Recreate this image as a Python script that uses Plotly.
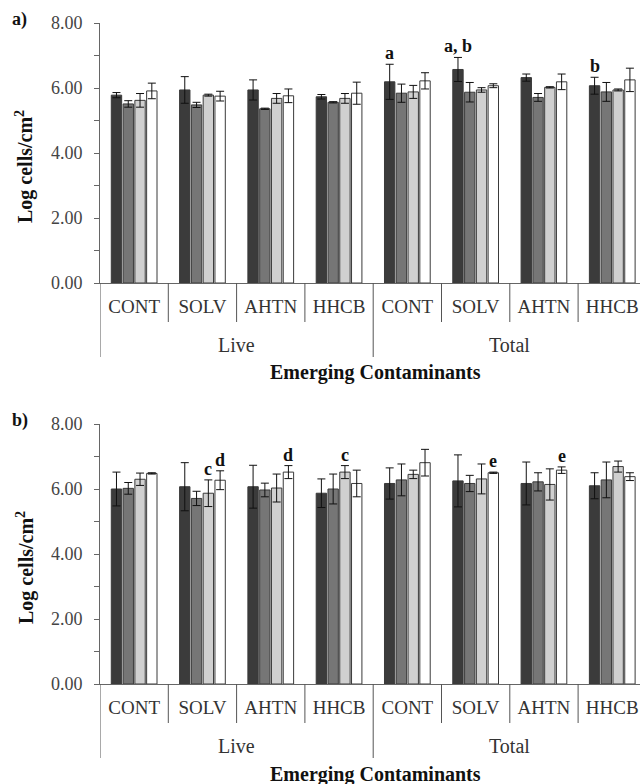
import plotly.graph_objects as go

# ---------------- data ----------------
categories = ["CONT", "SOLV", "AHTN", "HHCB", "CONT", "SOLV", "AHTN", "HHCB"]
groups = ["Live", "Total"]

a_s1 = [5.78, 5.94, 5.94, 5.73, 6.19, 6.57, 6.32, 6.07]
a_s1_err = [0.08, 0.41, 0.31, 0.07, 0.54, 0.37, 0.11, 0.26]
a_s2 = [5.51, 5.48, 5.36, 5.56, 5.84, 5.87, 5.71, 5.88]
a_s2_err = [0.10, 0.08, 0.02, 0.02, 0.28, 0.30, 0.12, 0.29]
a_s3 = [5.62, 5.78, 5.68, 5.68, 5.88, 5.94, 6.02, 5.94]
a_s3_err = [0.21, 0.03, 0.15, 0.15, 0.20, 0.07, 0.02, 0.03]
a_s4 = [5.91, 5.75, 5.76, 5.84, 6.22, 6.07, 6.19, 6.25]
a_s4_err = [0.24, 0.15, 0.21, 0.34, 0.25, 0.06, 0.24, 0.36]

b_s1 = [6.00, 6.07, 6.07, 5.87, 6.17, 6.25, 6.17, 6.10]
b_s1_err = [0.52, 0.74, 0.66, 0.44, 0.48, 0.80, 0.66, 0.40]
b_s2 = [6.02, 5.71, 5.97, 6.00, 6.28, 6.17, 6.22, 6.28]
b_s2_err = [0.18, 0.22, 0.21, 0.46, 0.49, 0.25, 0.28, 0.55]
b_s3 = [6.30, 5.87, 6.03, 6.52, 6.45, 6.31, 6.14, 6.69]
b_s3_err = [0.19, 0.41, 0.43, 0.20, 0.13, 0.46, 0.48, 0.17]
b_s4 = [6.48, 6.27, 6.52, 6.17, 6.81, 6.50, 6.58, 6.38]
b_s4_err = [0.02, 0.29, 0.20, 0.41, 0.41, 0.02, 0.10, 0.12]

# significance letters: (category index, series index, text)
a_letters = [(4, 0, "a"), (5, 0, "a, b"), (7, 0, "b")]
b_letters = [(1, 2, "c"), (1, 3, "d"), (2, 3, "d"), (3, 2, "c"), (5, 3, "e"), (6, 3, "e")]

y_ticks = [0, 2, 4, 6, 8]

# ---------------- style ----------------
W, H = 640, 784
FONT = "Liberation Serif, Times New Roman, serif"
fills = ["#3b3b3b", "#767676", "#d0d0d0", "#ffffff"]
outline = "#3a3a3a"
BARGAP = 0.31
BARGROUPGAP = 0.12

x_idx = list(range(len(categories)))
cat_px = 68.3
x_left_px = 100
x_range = [-0.5, -0.5 + (W - x_left_px) / cat_px]

panels = [
    dict(vals=[a_s1, a_s2, a_s3, a_s4], errs=[a_s1_err, a_s2_err, a_s3_err, a_s4_err],
         letters=a_letters, top=23, bottom=283, tag="a)"),
    dict(vals=[b_s1, b_s2, b_s3, b_s4], errs=[b_s1_err, b_s2_err, b_s3_err, b_s4_err],
         letters=b_letters, top=424, bottom=684, tag="b)"),
]

fig = go.Figure()
annotations = []
shapes = []

slot = (1 - BARGAP) / 4.0

for p, panel in enumerate(panels):
    xa = "x" if p == 0 else "x2"
    ya = "y" if p == 0 else "y2"
    for s in range(4):
        fig.add_trace(go.Bar(
            x=x_idx, y=panel["vals"][s], xaxis=xa, yaxis=ya,
            marker=dict(color=fills[s], line=dict(color=outline, width=1)),
            error_y=dict(type="data", array=panel["errs"][s], visible=True,
                         color="#111111", thickness=1, width=4),
            showlegend=False, hoverinfo="skip",
        ))
    # letters
    for (ci, si, txt) in panel["letters"]:
        xoff = -(1 - BARGAP) / 2 + (si + 0.5) * slot
        annotations.append(dict(
            x=ci + xoff, y=panel["vals"][si][ci] + panel["errs"][si][ci],
            xref=xa, yref=ya, text="<b>%s</b>" % txt, showarrow=False,
            yanchor="bottom", xanchor="center", yshift=-1,
            font=dict(family=FONT, size=18, color="#111111"),
        ))
    top, bottom = panel["top"], panel["bottom"]
    yb = 1 - bottom / H
    # panel tag
    annotations.append(dict(
        x=10 / W, y=1 - (top - 4) / H, xref="paper", yref="paper",
        text="<b>%s</b>" % panel["tag"], showarrow=False, xanchor="left", yanchor="middle",
        font=dict(family=FONT, size=18, color="#111111"),
    ))
    # y title
    annotations.append(dict(
        x=25 / W, y=1 - ((top + bottom) / 2 + 14) / H, xref="paper", yref="paper",
        text="<b>Log cells/cm<sup>2</sup></b>", showarrow=False, textangle=-90,
        xanchor="center", yanchor="middle",
        font=dict(family=FONT, size=20, color="#111111"),
    ))
    # group labels
    for g, name in enumerate(groups):
        annotations.append(dict(
            x=g * 4 + 1.5, y=1 - (bottom + 62) / H, xref=xa, yref="paper",
            text=name, showarrow=False, xanchor="center", yanchor="middle",
            font=dict(family=FONT, size=20, color="#333333"),
        ))
    annotations.append(dict(
        x=375 / W, y=1 - (bottom + 90) / H, xref="paper", yref="paper",
        text="<b>Emerging Contaminants</b>", showarrow=False, xanchor="center", yanchor="middle",
        font=dict(family=FONT, size=20, color="#111111"),
    ))
    # category dividers
    for k in range(len(categories) + 1):
        xd = k - 0.5
        long_ = (k % 4 == 0)
        shapes.append(dict(
            type="line", xref=xa, yref="paper", x0=xd, x1=xd,
            y0=yb, y1=1 - (bottom + (74 if long_ else 39)) / H,
            line=dict(color="#555555", width=1),
        ))

axis_common = dict(showgrid=False, zeroline=False, showline=True, linecolor="#666666",
                   linewidth=1)

fig.update_layout(
    width=W, height=H,
    margin=dict(l=0, r=0, t=0, b=0),
    paper_bgcolor="white", plot_bgcolor="white",
    barmode="group", bargap=BARGAP, bargroupgap=BARGROUPGAP,
    annotations=annotations, shapes=shapes,
    font=dict(family=FONT, color="#333333"),
)

for p, panel in enumerate(panels):
    sfx = "" if p == 0 else "2"
    top, bottom = panel["top"], panel["bottom"]
    fig.layout["xaxis" + sfx] = dict(
        axis_common, domain=[x_left_px / W, 1.0], range=x_range,
        tickmode="array", tickvals=x_idx, ticktext=categories,
        ticks="", tickfont=dict(family=FONT, size=19, color="#333333"),
        ticklabelstandoff=6, automargin=False, anchor="y" + sfx, fixedrange=True,
    )
    fig.layout["yaxis" + sfx] = dict(
        axis_common, domain=[1 - bottom / H, 1 - top / H], range=[0, 8],
        tickmode="array", tickvals=y_ticks, tickformat=".2f",
        ticks="outside", ticklen=5, tickcolor="#666666",
        minor=dict(dtick=1, ticks="outside", ticklen=5, tickcolor="#666666"),
        tickfont=dict(family=FONT, size=18, color="#444444"),
        ticklabelstandoff=8, automargin=False, anchor="x" + sfx, fixedrange=True,
    )

fig.write_html(
    "out.html",
    config={"displayModeBar": False},
    post_script="document.body.style.margin='0px';document.body.style.overflow='hidden';",
)
